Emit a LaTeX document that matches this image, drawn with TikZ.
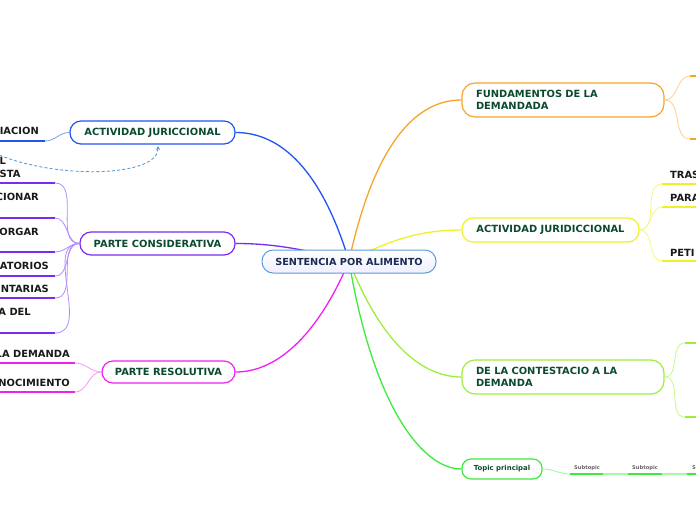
\documentclass[tikz,border=0pt]{standalone}
\usepackage{fontspec}
\setmainfont{DejaVu Sans}
\usetikzlibrary{arrows.meta}
\definecolor{cblue}{HTML}{2255EE}
\definecolor{lblue}{HTML}{7C9BF0}
\definecolor{cpurp}{HTML}{7A2BF0}
\definecolor{lpurp}{HTML}{B08CFA}
\definecolor{cmag}{HTML}{EE22EE}
\definecolor{lmag}{HTML}{F599F5}
\definecolor{corg}{HTML}{F7A428}
\definecolor{lorg}{HTML}{FCD08A}
\definecolor{cyel}{HTML}{F0F02A}
\definecolor{lyel}{HTML}{F7F77A}
\definecolor{clgr}{HTML}{9BEE3A}
\definecolor{llgr}{HTML}{C4F88C}
\definecolor{cgrn}{HTML}{3DEB3D}
\definecolor{lgrn}{HTML}{A8F8A8}
\definecolor{ntext}{HTML}{0B4A2E}
\definecolor{ctext}{HTML}{1B2B52}
\definecolor{cbord}{HTML}{5B9BDB}
\definecolor{dashc}{HTML}{5B9BDB}
\tikzset{
  x=1pt, y=-1pt,
  topic/.style={draw, line width=1.2pt, fill=white, rounded corners=11pt,
    text=ntext, font=\fontsize{9.9}{12}\selectfont\bfseries, inner sep=0pt},
  leaftext/.style={text=black!90, font=\fontsize{9.9}{12.5}\selectfont\bfseries, inner sep=0pt, align=left},
  mainline/.style={line width=1.3pt},
  uline/.style={line width=1.8pt},
  cline/.style={line width=0.8pt},
  subt/.style={text=black!60, font=\fontsize{5.2}{6}\selectfont\bfseries, inner sep=0pt}
}
\begin{document}
\begin{tikzpicture}
\useasboundingbox (0,0) rectangle (696,520);
\clip (0,0) rectangle (696,520);
\coordinate (c) at (349,261);
% main topic nodes
\node[topic, draw=cblue, minimum width=165pt, minimum height=23pt] (ajur) at (152.5,132.5) {ACTIVIDAD JURICCIONAL};
\node[topic, draw=cpurp, minimum width=155pt, minimum height=23pt] (pcons) at (157.5,243.5) {PARTE CONSIDERATIVA};
\node[topic, draw=cmag, minimum width=133pt, minimum height=22pt] (pres) at (168.5,372) {PARTE RESOLUTIVA};
\node[topic, draw=corg, minimum width=202pt, minimum height=34pt, rounded corners=13pt, text width=174pt, align=left, inner xsep=14pt] (fund) at (563,100) {FUNDAMENTOS DE LA\\DEMANDADA};
\node[topic, draw=cyel, minimum width=177pt, minimum height=24pt] (ajurid) at (550.5,230) {ACTIVIDAD JURIDICCIONAL};
\node[topic, draw=clgr, minimum width=202pt, minimum height=34pt, rounded corners=13pt, text width=174pt, align=left, inner xsep=14pt] (cont) at (563,377) {DE LA CONTESTACIO A LA\\DEMANDA};
\node[topic, draw=cgrn, minimum width=80pt, minimum height=20pt, rounded corners=9pt, font=\fontsize{6.9}{8}\selectfont\bfseries] (tp) at (502,469) {Topic principal};
% main branches
\draw[mainline, cblue] (c) .. controls (322,172) and (282,132.5) .. (ajur.east);
\draw[mainline, corg] (c) .. controls (372,155) and (410,100) .. (fund.west);
\draw[mainline, cyel] (c) .. controls (390,240) and (420,230) .. (ajurid.west);
\draw[mainline, cpurp] (c) .. controls (300,248) and (270,243.5) .. (pcons.east);
\draw[mainline, cmag] (c) .. controls (320,330) and (280,372) .. (pres.east);
\draw[mainline, clgr] (c) .. controls (380,340) and (420,377) .. (cont.west);
\draw[mainline, cgrn] (c) .. controls (372,400) and (420,469) .. (tp.west);
% central node
\node[draw=cbord, line width=1pt, rounded corners=11pt, top color=white, bottom color=blue!6,
  minimum width=174pt, minimum height=23pt, inner sep=0pt, text=ctext,
  font=\fontsize{9.7}{12}\selectfont\bfseries] (center) at (349,261.5) {SENTENCIA POR ALIMENTO};
% left blue leaf
\coordinate (b1s) at (-2,141); \coordinate (b1e) at (45,141);
\draw[uline, cblue] (b1s) -- (b1e);
\draw[cline, lblue] (b1e) to[out=0,in=180] (ajur.west);
\node[leaftext, anchor=east] (t1) at (39,131) {IACION};
% dashed relation
\coordinate (rs) at (-10,151);
\coordinate (rt) at (158,146);
\draw[dashc, line width=0.9pt, dash pattern=on 3pt off 2.2pt, -{Stealth[length=4pt,width=4pt]}] (rs) .. controls (50,180) and (158,178) .. (rt);
% purple leaves
\foreach \y/\n in {183/p1,218/p2,252/p3,276/p4,298/p5,333/p6}{
  \coordinate (\n s) at (-2,\y); \coordinate (\n e) at (55,\y);
  \draw[uline, cpurp] (\n s) -- (\n e);
  \draw[cline, lpurp] (\n e) to[out=0,in=180] (pcons.west);
}
\node[leaftext, anchor=west] (t2) at (-0.5,167.5) {L\\STA};
\node[leaftext, anchor=east] (t3) at (39,197) {CIONAR};
\node[leaftext, anchor=east] (t4) at (39,232) {TORGAR};
\node[leaftext, anchor=east] (t5) at (49,266) {ATORIOS};
\node[leaftext, anchor=east] (t6) at (49,289) {NTARIAS};
\node[leaftext, anchor=east] (t7) at (31,312) {A DEL};
% magenta leaves
\foreach \y/\n in {363/m1,392/m2}{
  \coordinate (\n s) at (-2,\y); \coordinate (\n e) at (75,\y);
  \draw[uline, cmag] (\n s) -- (\n e);
  \draw[cline, lmag] (\n e) to[out=0,in=180] (pres.west);
}
\node[leaftext, anchor=east] (t8) at (70,354) {LA DEMANDA};
\node[leaftext, anchor=east] (t9) at (70,383) {NOCIMIENTO};
% orange right leaves
\foreach \y/\n in {76/o1,139/o2}{
  \coordinate (\n s) at (690,\y); \coordinate (\n e) at (700,\y);
  \draw[uline, corg] (\n s) -- (\n e);
  \draw[cline, lorg] (fund.east) to[out=0,in=180] (\n s);
}
% yellow right leaves
\foreach \y/\n in {184/y1,207/y2,261/y3}{
  \coordinate (\n s) at (662,\y); \coordinate (\n e) at (700,\y);
  \draw[uline, cyel] (\n s) -- (\n e);
  \draw[cline, lyel] (ajurid.east) to[out=0,in=180] (\n s);
}
\node[leaftext, anchor=west] (t10) at (670,175) {TRAS};
\node[leaftext, anchor=west] (t11) at (670,198) {PARA};
\node[leaftext, anchor=west] (t12) at (670,253) {PETI};
% light green right leaves
\foreach \y/\n in {343/g1,417/g2}{
  \coordinate (\n s) at (685,\y); \coordinate (\n e) at (700,\y);
  \draw[uline, clgr] (\n s) -- (\n e);
  \draw[cline, llgr] (cont.east) to[out=0,in=180] (\n s);
}
% subtopics
\coordinate (s1a) at (570,474); \coordinate (s1b) at (603,474);
\coordinate (s2a) at (628,474); \coordinate (s2b) at (662,474);
\coordinate (s3a) at (687,474); \coordinate (s3b) at (700,474);
\draw[cline, lgrn, line width=1pt] (tp.east) to[out=0,in=180] (s1a);
\draw[uline, cgrn] (s1a) -- (s1b);
\draw[lgrn, line width=1.3pt] (s1b) -- (s2a);
\draw[uline, cgrn] (s2a) -- (s2b);
\draw[lgrn, line width=1.3pt] (s2b) -- (s3a);
\draw[uline, cgrn] (s3a) -- (s3b);
\node[subt] (st1) at (587,468) {Subtopic};
\node[subt] (st2) at (645,468) {Subtopic};
\node[subt, anchor=west] (st3) at (692,468) {S};
\end{tikzpicture}
\end{document}
